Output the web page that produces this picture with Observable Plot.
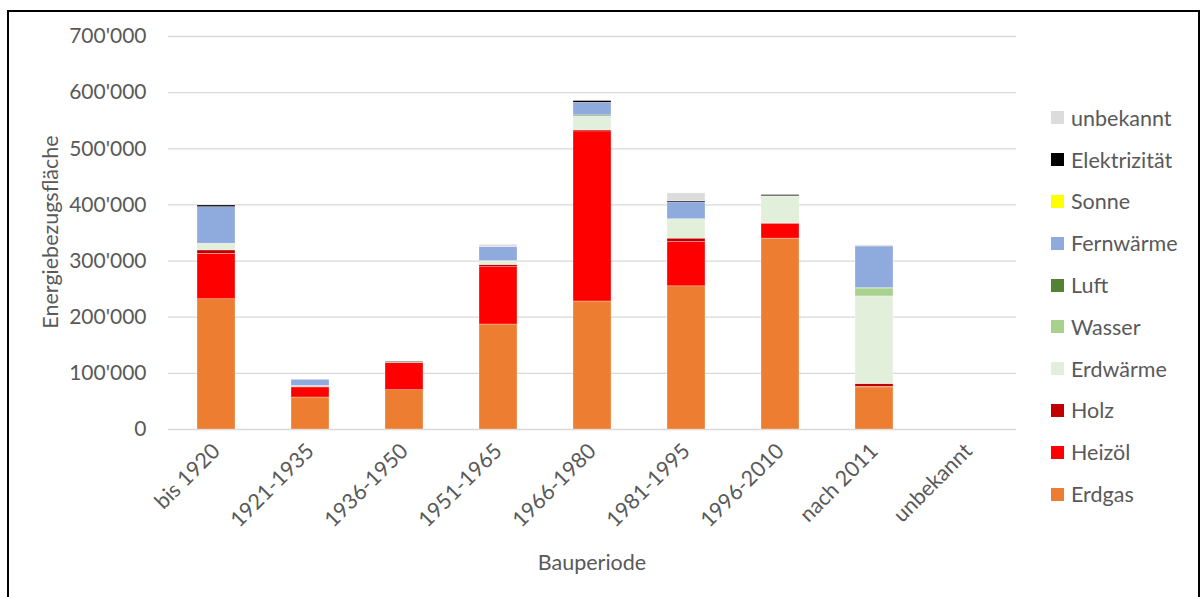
<!DOCTYPE html>
<html>
<head>
<meta charset="utf-8">
<script src="https://cdn.jsdelivr.net/npm/d3@7"></script>
<script src="https://cdn.jsdelivr.net/npm/@observablehq/plot@0.6"></script>
<style>
  html, body { margin: 0; padding: 0; background: #fff; }
  #wrap { position: relative; width: 1203px; height: 597px; overflow: hidden; font-family: Lato, "Open Sans", sans-serif; color: #595959; }
  #frame { position: absolute; left: 7px; top: 10px; width: 1189px; height: 600px; border: 2px solid #000; box-sizing: content-box; }
  #chart { position: absolute; left: 0; top: 0; }
  .ytitle { position: absolute; left: 50px; top: 232px; transform: translate(-50%, -50%) rotate(-90deg); font-size: 21.5px; white-space: nowrap; }
  .xtitle { position: absolute; left: 592px; top: 562px; transform: translate(-50%, -50%); font-size: 21.5px; white-space: nowrap; }
  #legend { position: absolute; left: 1051px; top: 97px; }
  .li { display: flex; align-items: center; height: 41.8px; font-size: 21.5px; }
  .sw { width: 13px; height: 13px; margin-right: 7px; }
</style>
</head>
<body>
<div id="wrap">
  <div id="frame"></div>
  <div id="chart"></div>
  <div class="ytitle">Energiebezugsfläche</div>
  <div class="xtitle">Bauperiode</div>
  <div id="legend"></div>
</div>
<script>
const periods = ["bis 1920", "1921-1935", "1936-1950", "1951-1965", "1966-1980", "1981-1995", "1996-2010", "nach 2011", "unbekannt"];
const yTicks = [0, 100000, 200000, 300000, 400000, 500000, 600000, 700000];

// values per energy source, in m² (one entry per period)
const erdgas       = [232000, 57000, 70000, 187000, 228000, 255000, 340000, 75000, 0];
const heizoel      = [ 81000, 18000, 48000, 102000, 303000,  79000,  26000,  1000, 0];
const holz         = [  6000,  1000,  1000,   4000,   2000,   6000,   1000,  5000, 0];
const erdwaerme    = [ 12000,  1500,     0,   6000,  24000,  34500,  48000, 156000, 0];
const wasser       = [     0,     0,     0,   1000,   1000,      0,      0, 14000, 0];
const luft         = [     0,     0,  1500,      0,   1500,      0,    500,  1000, 0];
const fernwaerme   = [ 65000, 11000,     0,  25000,  22500,  30000,      0, 74000, 0];
const sonne        = [     0,     0,     0,      0,      0,      0,      0,     0, 0];
const elektrizitaet= [  3000,     0,   500,      0,   3000,   2000,   2000,     0, 0];
const unbekannt    = [     0,     0,     0,   4000,      0,  14000,      0,  2000, 0];

const seriesNames  = ["Erdgas", "Heizöl", "Holz", "Erdwärme", "Wasser", "Luft", "Fernwärme", "Sonne", "Elektrizität", "unbekannt"];
const seriesValues = [erdgas, heizoel, holz, erdwaerme, wasser, luft, fernwaerme, sonne, elektrizitaet, unbekannt];
const seriesColors = ["#ED7D31", "#FF0000", "#C00000", "#E2EFDA", "#A9D18E", "#548235", "#8FAADC", "#FFFF00", "#000000", "#DCDCDC"];

const rows = [];
seriesNames.forEach((s, si) => {
  periods.forEach((p, pi) => rows.push({period: p, source: s, value: seriesValues[si][pi]}));
});

const fmt = d3.formatLocale({decimal: ".", thousands: "'", grouping: [3], currency: ["", ""]}).format(",");

const chart = Plot.plot({
  width: 1203,
  height: 597,
  marginLeft: 168,
  marginRight: 187,
  marginTop: 36,
  marginBottom: 168,
  style: {fontFamily: "Lato, 'Open Sans', sans-serif", fontSize: "21px", color: "#595959", background: "transparent"},
  x: {domain: periods, paddingInner: 0.6, paddingOuter: 0.3, label: null},
  y: {domain: [0, 700000], label: null},
  color: {domain: seriesNames, range: seriesColors},
  marks: [
    Plot.ruleY(yTicks, {stroke: "#D9D9D9", strokeWidth: 1.3}),
    Plot.barY(rows, Plot.stackY({x: "period", y: "value", fill: "source", order: seriesNames, stroke: "#fff", strokeWidth: 0.5, strokeOpacity: 0.6})),
    Plot.axisY({ticks: yTicks, tickSize: 0, tickPadding: 22, tickFormat: fmt, label: null, fontSize: 21}),
    Plot.axisX({tickSize: 0, tickPadding: 18, tickRotate: -45, label: null, fontSize: 21.5})
  ]
});
document.getElementById("chart").appendChild(chart);

const legend = document.getElementById("legend");
const legendOrder = seriesNames.map((n, i) => i).reverse();
legendOrder.forEach(i => {
  const d = document.createElement("div");
  d.className = "li";
  d.innerHTML = `<span class="sw" style="background:${seriesColors[i]}"></span><span>${seriesNames[i]}</span>`;
  legend.appendChild(d);
});
</script>
</body>
</html>
